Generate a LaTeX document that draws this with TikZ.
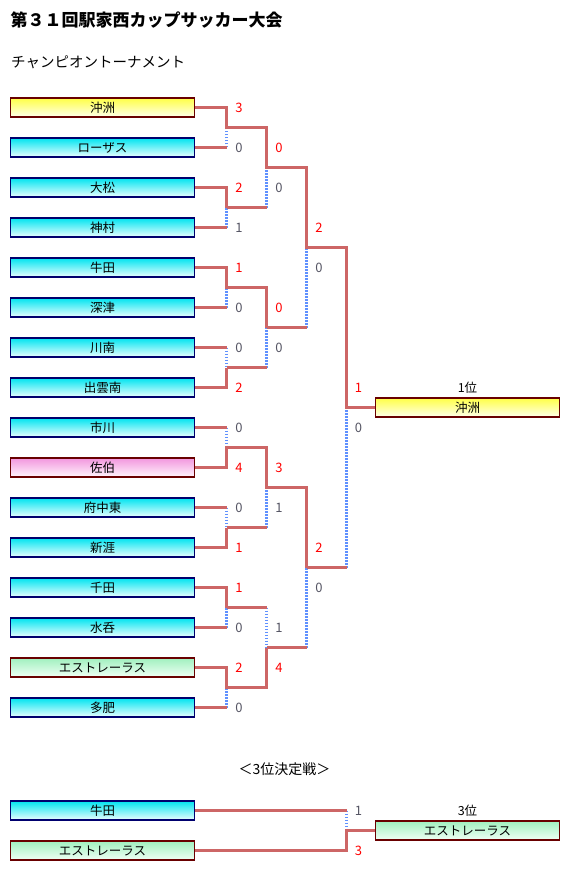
\documentclass[tikz,border=0pt]{standalone}
\usepackage{fontspec}
\setmainfont{Noto Sans CJK JP}
\definecolor{linered}{RGB}{205,102,102}
\definecolor{dotblue}{RGB}{95,145,255}
\definecolor{scoregray}{RGB}{85,85,100}
\definecolor{scorered}{RGB}{255,0,0}
\definecolor{cyantop}{RGB}{0,228,240}
\definecolor{cyanbot}{RGB}{235,255,255}
\definecolor{yeltop}{RGB}{255,255,70}
\definecolor{yelbot}{RGB}{255,255,235}
\definecolor{pinktop}{RGB}{242,150,222}
\definecolor{pinkbot}{RGB}{255,245,252}
\definecolor{greentop}{RGB}{160,240,190}
\definecolor{greenbot}{RGB}{240,255,245}
\definecolor{navyb}{RGB}{0,0,110}
\definecolor{maroonb}{RGB}{105,0,0}
\tikzset{
  teambox/.style={minimum width=184pt, minimum height=19pt, inner sep=0pt, line width=1.4pt,
    font=\fontsize{12.5}{12.5}\selectfont},
  cyanteam/.style={teambox, draw=navyb, top color=cyantop, bottom color=cyanbot},
  yelteam/.style={teambox, draw=maroonb, top color=yeltop, bottom color=yelbot},
  pinkteam/.style={teambox, draw=maroonb, top color=pinktop, bottom color=pinkbot},
  greenteam/.style={teambox, draw=maroonb, top color=greentop, bottom color=greenbot},
  win/.style={draw=linered, line width=2.6pt},
  lose/.style={draw=dotblue, line width=2.2pt, dash pattern=on 1.8pt off 1.2pt},
  sc/.style={inner sep=0pt, font=\fontsize{13}{13}\selectfont},
  wsc/.style={sc, text=scorered},
  lsc/.style={sc, text=scoregray},
  lbl/.style={inner sep=0pt, font=\fontsize{12.5}{12.5}\selectfont}
}
\begin{document}
\begin{tikzpicture}[x=1pt,y=-1pt]
\useasboundingbox (0,0) rectangle (572,869);
\fill[white] (0,0) rectangle (572,869);
% titles
\node[anchor=west, inner sep=0pt, font=\fontsize{17}{17}\selectfont\bfseries] (title) at (10.5,20) {第３１回駅家西カップサッカー大会};
\node[anchor=west, inner sep=0pt, font=\fontsize{14.5}{14.5}\selectfont] (sub) at (11,62) {チャンピオントーナメント};
% teams
\node[yelteam]   (t1)  at (102.5,107.5) {沖洲};
\node[cyanteam]  (t2)  at (102.5,147.5) {ローザス};
\node[cyanteam]  (t3)  at (102.5,187.5) {大松};
\node[cyanteam]  (t4)  at (102.5,227.5) {神村};
\node[cyanteam]  (t5)  at (102.5,267.5) {牛田};
\node[cyanteam]  (t6)  at (102.5,307.5) {深津};
\node[cyanteam]  (t7)  at (102.5,347.5) {川南};
\node[cyanteam]  (t8)  at (102.5,387.5) {出雲南};
\node[cyanteam]  (t9)  at (102.5,427.5) {市川};
\node[pinkteam]  (t10) at (102.5,467.5) {佐伯};
\node[cyanteam]  (t11) at (102.5,507.5) {府中東};
\node[cyanteam]  (t12) at (102.5,547.5) {新涯};
\node[cyanteam]  (t13) at (102.5,587.5) {千田};
\node[cyanteam]  (t14) at (102.5,627.5) {水呑};
\node[greenteam] (t15) at (102.5,667.5) {エストレーラス};
\node[cyanteam]  (t16) at (102.5,707.5) {多肥};
% champion
\node[yelteam] (champ) at (467.5,407.5) {沖洲};
\node[lbl] (l1) at (467.5,388) {1位};
% match points
\coordinate (m1) at (226.5,127.5);
\coordinate (m2) at (226.5,207.5);
\coordinate (m3) at (226.5,287.5);
\coordinate (m4) at (226.5,367.5);
\coordinate (m5) at (226.5,447.5);
\coordinate (m6) at (226.5,527.5);
\coordinate (m7) at (226.5,607.5);
\coordinate (m8) at (226.5,687.5);
\coordinate (q1) at (266.5,167.5);
\coordinate (q2) at (266.5,327.5);
\coordinate (q3) at (266.5,487.5);
\coordinate (q4) at (266.5,647.5);
\coordinate (s1) at (306.5,247.5);
\coordinate (s2) at (306.5,567.5);
\coordinate (fm) at (346.5,407.5);
% dotted loser segments
\draw[lose] (t2.east -| m1) -- (m1);
\draw[lose] (t4.east -| m2) -- (m2);
\draw[lose] (t6.east -| m3) -- (m3);
\draw[lose] (t7.east -| m4) -- (m4);
\draw[lose] (t9.east -| m5) -- (m5);
\draw[lose] (t11.east -| m6) -- (m6);
\draw[lose] (t14.east -| m7) -- (m7);
\draw[lose] (t16.east -| m8) -- (m8);
\draw[lose] (m2 -| q1) -- (q1);
\draw[lose] (m4 -| q2) -- (q2);
\draw[lose] (m6 -| q3) -- (q3);
\draw[lose] (m7 -| q4) -- (q4);
\draw[lose] (q2 -| s1) -- (s1);
\draw[lose] (q4 -| s2) -- (s2);
\draw[lose] (s2 -| fm) -- (fm);
% loser horizontals
\draw[win] (t2.east) -- (t2.east -| m1);
\draw[win] (t4.east) -- (t4.east -| m2);
\draw[win] (t6.east) -- (t6.east -| m3);
\draw[win] (t7.east) -- (t7.east -| m4);
\draw[win] (t9.east) -- (t9.east -| m5);
\draw[win] (t11.east) -- (t11.east -| m6);
\draw[win] (t14.east) -- (t14.east -| m7);
\draw[win] (t16.east) -- (t16.east -| m8);
\draw[win] (m2) -- (m2 -| q1);
\draw[win] (m4) -- (m4 -| q2);
\draw[win] (m6) -- (m6 -| q3);
\draw[win] (m7) -- (m7 -| q4);
\draw[win] (q2) -- (q2 -| s1);
\draw[win] (q4) -- (q4 -| s2);
\draw[win] (s2) -- (s2 -| fm);
% winner paths
\draw[win] (t1.east) -| (m1) -| (q1) -| (s1) -| (fm) -- (champ.west);
\draw[win] (t3.east) -| (m2);
\draw[win] (t5.east) -| (m3) -| (q2);
\draw[win] (t8.east) -| (m4);
\draw[win] (t10.east) -| (m5) -| (q3) -| (s2);
\draw[win] (t12.east) -| (m6);
\draw[win] (t13.east) -| (m7);
\draw[win] (t15.east) -| (m8) -| (q4);
% scores round 1
\node[wsc] (a1) at (239,107.5) {3};
\node[lsc] (a2) at (239,147.5) {0};
\node[wsc] (a3) at (239,187.5) {2};
\node[lsc] (a4) at (239,227.5) {1};
\node[wsc] (a5) at (239,267.5) {1};
\node[lsc] (a6) at (239,307.5) {0};
\node[lsc] (a7) at (239,347.5) {0};
\node[wsc] (a8) at (239,387.5) {2};
\node[lsc] (a9) at (239,427.5) {0};
\node[wsc] (a10) at (239,467.5) {4};
\node[lsc] (a11) at (239,507.5) {0};
\node[wsc] (a12) at (239,547.5) {1};
\node[wsc] (a13) at (239,587.5) {1};
\node[lsc] (a14) at (239,627.5) {0};
\node[wsc] (a15) at (239,667.5) {2};
\node[lsc] (a16) at (239,707.5) {0};
% round 2
\node[wsc] (b1) at (279,147.5) {0};
\node[lsc] (b2) at (279,187.5) {0};
\node[wsc] (b3) at (279,307.5) {0};
\node[lsc] (b4) at (279,347.5) {0};
\node[wsc] (b5) at (279,467.5) {3};
\node[lsc] (b6) at (279,507.5) {1};
\node[lsc] (b7) at (279,627.5) {1};
\node[wsc] (b8) at (279,667.5) {4};
% round 3
\node[wsc] (c1) at (319,227.5) {2};
\node[lsc] (c2) at (319,267.5) {0};
\node[wsc] (c3) at (319,547.5) {2};
\node[lsc] (c4) at (319,587.5) {0};
% final
\node[wsc] (d1) at (358.5,387.5) {1};
\node[lsc] (d2) at (358.5,427.5) {0};
% third place
\node[inner sep=0pt, font=\fontsize{14}{14}\selectfont] (thirdt) at (284.5,769) {＜3位決定戦＞};
\node[cyanteam]  (u1) at (102.5,810.5) {牛田};
\node[greenteam] (u2) at (102.5,850.5) {エストレーラス};
\node[greenteam] (third) at (467.5,830.5) {エストレーラス};
\node[lbl] (l3) at (467.5,811) {3位};
\coordinate (tm) at (346.5,830.5);
\draw[lose] (u1.east -| tm) -- (tm);
\draw[win] (u1.east) -- (u1.east -| tm);
\draw[win] (u2.east) -| (tm) -- (third.west);
\node[lsc] (e1) at (358.5,810.5) {1};
\node[wsc] (e2) at (358.5,850.5) {3};
\end{tikzpicture}
\end{document}
